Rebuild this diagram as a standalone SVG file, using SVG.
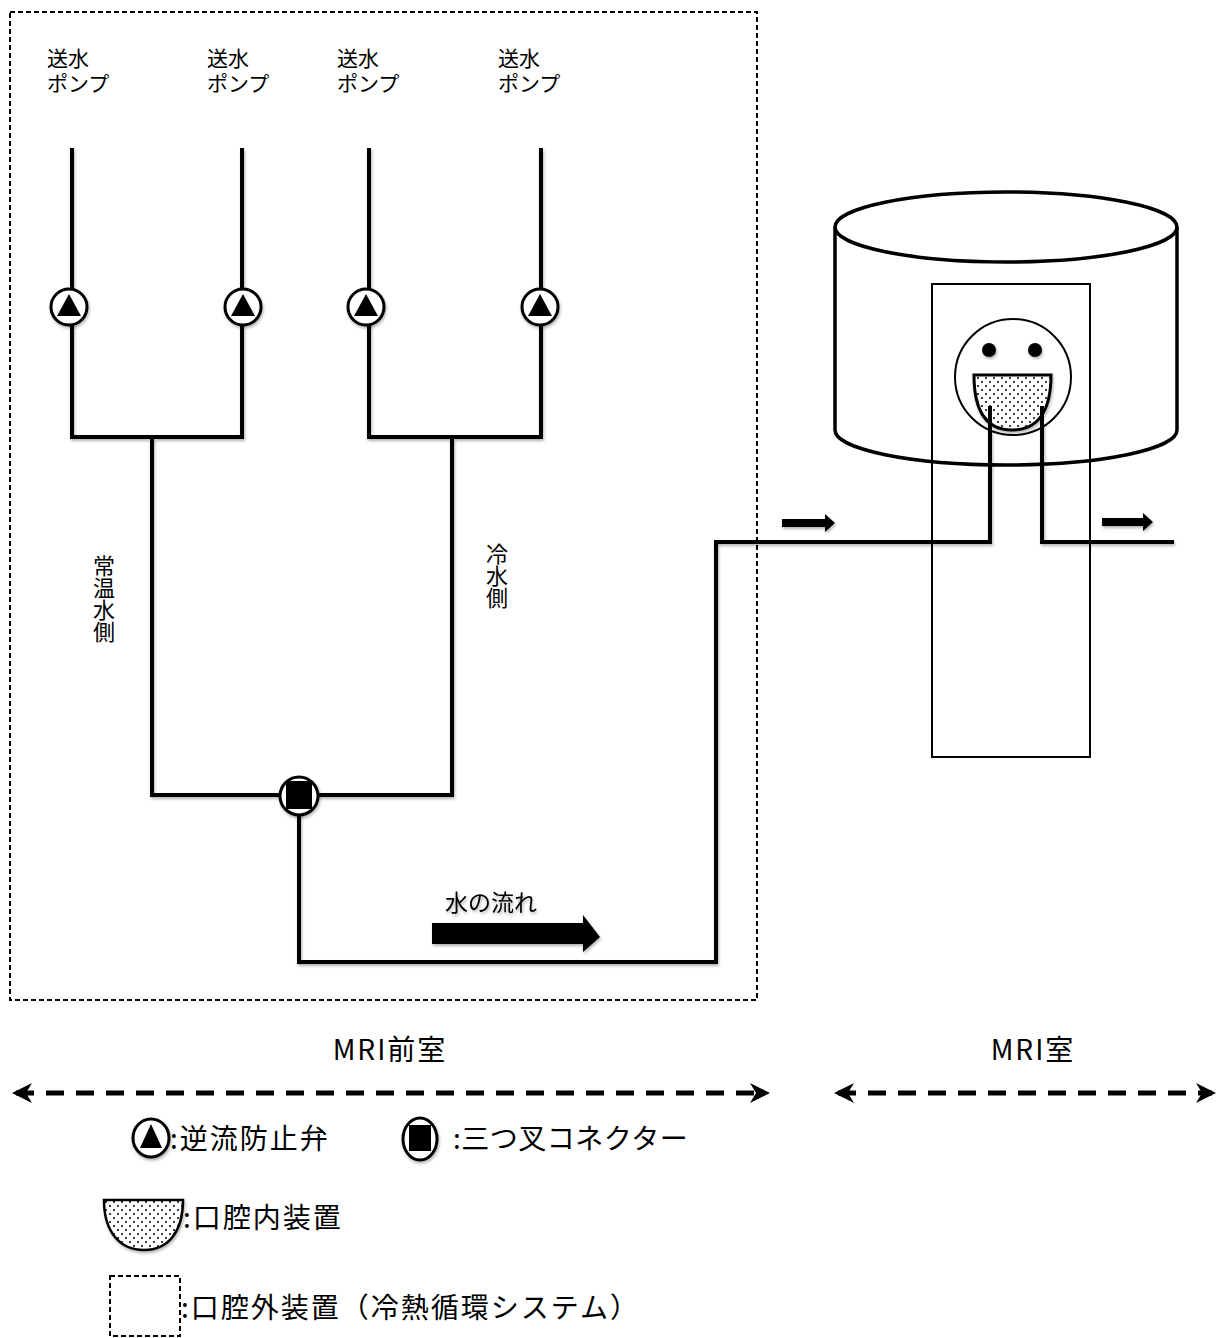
<svg xmlns="http://www.w3.org/2000/svg" width="1219" height="1338" viewBox="0 0 1219 1338">
  <defs>
    <style>
      text { font-family: "Noto Sans CJK JP", "Liberation Sans", sans-serif; fill: #000; }
      .lbl { font-size: 21px; }
      .big { font-size: 28px; letter-spacing: 2px; }
      .big-tight { font-size: 28px; letter-spacing: 0.5px; }
      .room { font-size: 28px; letter-spacing: 2px; }
      .vert { font-size: 22px; writing-mode: vertical-rl; }
      .pipe { fill: none; stroke: #000; stroke-width: 4; stroke-linecap: square; }
      .thin { fill: none; stroke: #000; stroke-width: 2; }
      .thick { fill: none; stroke: #000; stroke-width: 3.5; }
      .zone { fill: none; stroke: #000; stroke-width: 5; stroke-dasharray: 18 12; }
      .frame { fill: none; stroke: #000; stroke-width: 2; stroke-dasharray: 5 3; }
    </style>
    <pattern id="dots" width="8" height="8" patternUnits="userSpaceOnUse">
      <rect width="8" height="8" fill="#fff"/>
      <circle cx="2" cy="2" r="1" fill="#000"/>
      <circle cx="6" cy="6" r="1" fill="#000"/>
    </pattern>
    <filter id="sh" x="-20%" y="-20%" width="140%" height="140%">
      <feDropShadow dx="1" dy="2" stdDeviation="1.5" flood-color="#000" flood-opacity="0.3"/>
    </filter>
    <!-- check valve: circle with an upward triangle -->
    <g id="valve">
      <circle r="18" fill="#fff" stroke="#000" stroke-width="3"/>
      <polygon points="0,-13 12,9 -12,9" fill="#000"/>
    </g>
    <marker id="ah" viewBox="0 0 10 10" refX="8" refY="5" markerWidth="4" markerHeight="4" orient="auto-start-reverse">
      <path d="M0,0 L10,5 L0,10 L3,5 Z" fill="#000"/>
    </marker>
  </defs>

  <rect width="1219" height="1338" fill="#fff"/>

  <!-- extra-oral unit boundary -->
  <rect id="unit-frame" x="10" y="12" width="747" height="988" class="frame"/>

  <!-- pump labels -->
  <g id="pump-labels" class="lbl">
    <text x="47" y="66">送水<tspan x="47" dy="25">ポンプ</tspan></text>
    <text x="207" y="66">送水<tspan x="207" dy="25">ポンプ</tspan></text>
    <text x="337" y="66">送水<tspan x="337" dy="25">ポンプ</tspan></text>
    <text x="498" y="66">送水<tspan x="498" dy="25">ポンプ</tspan></text>
  </g>

  <!-- piping -->
  <g id="connectors" filter="url(#sh)">
    <path class="pipe" d="M72,150 V437 H242 V150"/>
    <path class="pipe" d="M369,150 V437 H541 V150"/>
    <path class="pipe" d="M152,437 V795 H452 V437"/>
    <path class="pipe" d="M299,795 V962 H716 V542 H990 V408"/>
    <path class="pipe" d="M1042,408 V542 H1172"/>
  </g>

  <!-- check valves -->
  <g id="valve-1" filter="url(#sh)"><use href="#valve" x="69" y="307"/></g>
  <g id="valve-2" filter="url(#sh)"><use href="#valve" x="243" y="307"/></g>
  <g id="valve-3" filter="url(#sh)"><use href="#valve" x="366" y="307"/></g>
  <g id="valve-4" filter="url(#sh)"><use href="#valve" x="540" y="307"/></g>

  <!-- three-way connector -->
  <g id="tee" filter="url(#sh)">
    <circle cx="299" cy="796" r="19" fill="#fff" stroke="#000" stroke-width="3"/>
    <rect x="286" y="781" width="26" height="28" fill="#000"/>
  </g>

  <!-- side labels -->
  <g id="side-labels">
    <text x="104" y="555" class="vert">常温水側</text>
    <text x="497" y="543" class="vert">冷水側</text>
  </g>

  <!-- flow arrow -->
  <g id="flow" filter="url(#sh)">
    <text x="445" y="911" style="font-size:23px">水の流れ</text>
    <polygon points="432,923 583,923 583,915 600,937 583,952 583,944 432,944" fill="#000"/>
  </g>
  <g id="flow-small" filter="url(#sh)">
    <polygon points="782,519 825,519 825,514 835,523 825,532 825,527 782,527" fill="#000"/>
    <polygon points="1102,518 1143,518 1143,513 1153,522 1143,531 1143,526 1102,526" fill="#000"/>
  </g>

  <!-- MRI gantry -->
  <g id="gantry">
    <path class="thick" d="M835,227 V430 A171,35 0 0 0 1177,430 V227"/>
    <ellipse cx="1006" cy="227" rx="171" ry="35" class="thick" fill="#fff"/>
  </g>
  <!-- table -->
  <rect id="table" x="932" y="284" width="158" height="473" class="thin"/>

  <!-- patient head with intra-oral device -->
  <g id="head">
    <circle cx="1013" cy="377" r="58" fill="#fff" stroke="#000" stroke-width="2"/>
    <circle cx="989" cy="350" r="7" fill="#000" filter="url(#sh)"/>
    <circle cx="1035" cy="350" r="7" fill="#000" filter="url(#sh)"/>
    <path d="M974,375 H1051 C1051,412 1037,430 1012,430 C987,430 974,412 974,375 Z" fill="url(#dots)" stroke="#000" stroke-width="3" filter="url(#sh)"/>
  </g>
  <g id="head-pipes">
    <path class="pipe" d="M990,408 V542 H716"/>
    <path class="pipe" d="M1042,408 V542 H1172"/>
  </g>

  <!-- room labels -->
  <g id="rooms">
    <text x="390" y="1060" class="room" text-anchor="middle">MRI前室</text>
    <text x="1033" y="1060" class="room" text-anchor="middle">MRI室</text>
    <line x1="16" y1="1093" x2="766" y2="1093" class="zone" marker-start="url(#ah)" marker-end="url(#ah)"/>
    <line x1="838" y1="1093" x2="1212" y2="1093" class="zone" marker-start="url(#ah)" marker-end="url(#ah)"/>
  </g>

  <!-- legend -->
  <g id="legend-valve">
    <g filter="url(#sh)">
      <ellipse cx="151" cy="1138" rx="18" ry="19" fill="#fff" stroke="#000" stroke-width="3"/>
      <polygon points="151,1124 162,1148 140,1148" fill="#000"/>
    </g>
    <text x="170" y="1149" class="big">:逆流防止弁</text>
  </g>
  <g id="legend-tee">
    <g filter="url(#sh)">
      <ellipse cx="420" cy="1139" rx="17" ry="21" fill="#fff" stroke="#000" stroke-width="3"/>
      <rect x="409" y="1125" width="22" height="26" fill="#000"/>
    </g>
    <text x="453" y="1149" class="big-tight">:三つ叉コネクター</text>
  </g>
  <g id="legend-mouth">
    <path d="M104,1200 H183 C183,1232 168,1250 144,1250 C120,1250 104,1232 104,1200 Z" fill="url(#dots)" stroke="#000" stroke-width="2.5" filter="url(#sh)"/>
    <text x="183" y="1228" class="big">:口腔内装置</text>
  </g>
  <g id="legend-frame">
    <rect x="110" y="1276" width="70" height="60" class="frame"/>
    <text x="181" y="1318" class="big">:口腔外装置（冷熱循環システム）</text>
  </g>
</svg>
